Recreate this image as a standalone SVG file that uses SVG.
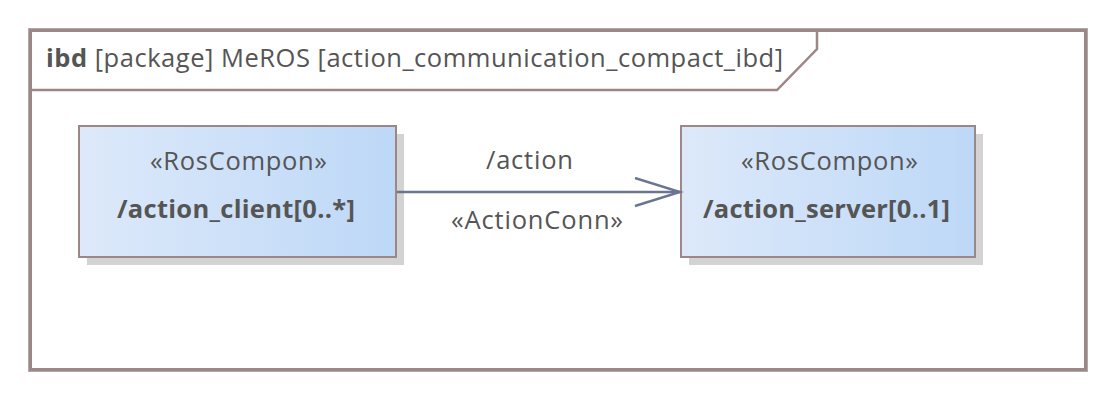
<svg xmlns="http://www.w3.org/2000/svg" width="1116" height="399" viewBox="0 0 1116 399">
  <defs>
    <linearGradient id="partFill" x1="0" y1="0" x2="1" y2="0">
      <stop offset="0" stop-color="#dde9fa"/>
      <stop offset="1" stop-color="#bdd8f7"/>
    </linearGradient>
    <marker id="openArrow" markerUnits="userSpaceOnUse" markerWidth="50" markerHeight="34" refX="46" refY="15" orient="auto" viewBox="0 0 50 34">
      <polyline points="1,1 46,15 1,29" fill="none" stroke="#6b7590" stroke-width="2.5"/>
    </marker>
    <style>
      .txt { font-family: "Open Sans", "Noto Sans", "DejaVu Sans", sans-serif; fill: #555555; }
      .stereo { font-size: 25.5px; text-anchor: middle; }
      .name { font-size: 25.5px; font-weight: bold; text-anchor: middle; }
      .part { fill: url(#partFill); stroke: #9c8686; stroke-width: 2; }
      .shadow { fill: #d3d3d3; }
      .conn { stroke: #6b7590; stroke-width: 2.5; fill: none; }
    </style>
  </defs>

  <rect width="1116" height="399" fill="#ffffff"/>

  <!-- diagram frame -->
  <g id="frame">
    <rect x="28.5" y="28.5" width="1059" height="343" fill="none" stroke="#b0aaaa" stroke-width="1"/>
    <rect x="30.5" y="30.5" width="1055" height="339" fill="#ffffff" stroke="#9c8686" stroke-width="3"/>
    <polyline points="31,90 777,90 817,49 817,31" fill="none" stroke="#9c8686" stroke-width="2.5"/>
    <text class="txt" x="46" y="67" font-size="25.5" textLength="737" lengthAdjust="spacing"><tspan font-weight="bold">ibd</tspan> [package] MeROS [action_communication_compact_ibd]</text>
  </g>

  <!-- part: action_client -->
  <g id="action_client">
    <rect class="shadow" x="87" y="134" width="317" height="131"/>
    <rect class="part" x="79" y="126" width="317" height="131"/>
    <text class="txt stereo" x="238.5" y="170" textLength="177" lengthAdjust="spacing">«RosCompon»</text>
    <text class="txt name" x="236" y="218" textLength="238" lengthAdjust="spacing">/action_client[0..*]</text>
  </g>

  <!-- part: action_server -->
  <g id="action_server">
    <rect class="shadow" x="689" y="134" width="294" height="131"/>
    <rect class="part" x="681" y="126" width="294" height="131"/>
    <text class="txt stereo" x="829.5" y="170" textLength="177" lengthAdjust="spacing">«RosCompon»</text>
    <text class="txt name" x="826.5" y="218" textLength="247" lengthAdjust="spacing">/action_server[0..1]</text>
  </g>

  <!-- connectors -->
  <g id="connectors">
    <line class="conn" x1="397" y1="192" x2="680" y2="192" marker-end="url(#openArrow)"/>
    <text class="txt stereo" x="529.5" y="169" textLength="87" lengthAdjust="spacing">/action</text>
    <text class="txt stereo" x="537" y="229" textLength="172" lengthAdjust="spacing">«ActionConn»</text>
  </g>
</svg>
